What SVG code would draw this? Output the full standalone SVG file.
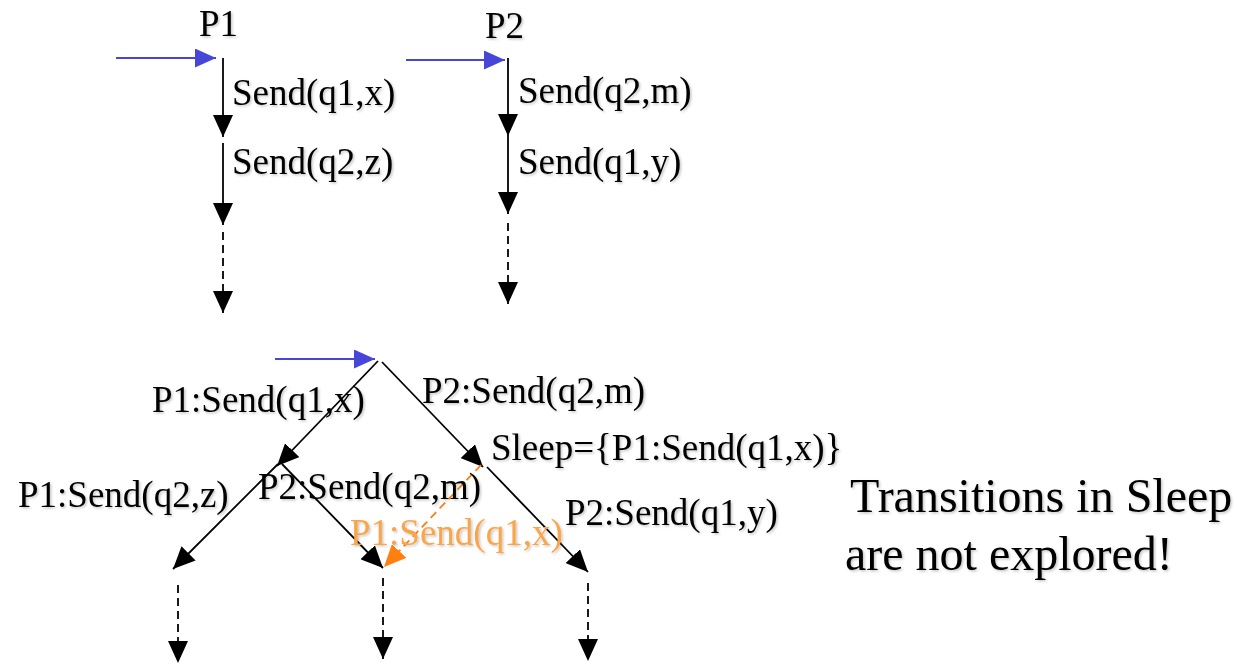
<svg xmlns="http://www.w3.org/2000/svg" width="1237" height="664" viewBox="0 0 1237 664">
<defs>
<style>
.t{font-family:"Liberation Serif","Times New Roman",serif;font-size:37px;fill:#000;filter:url(#sh)}
.big{font-size:48px}
.or{fill:#F9A54A}
.e{stroke:#000;stroke-width:1.8;fill:none;marker-end:url(#ah)}
.d{stroke-dasharray:8 5}
.b{stroke:#4646D8;stroke-width:2;fill:none;marker-end:url(#bh)}
.o{stroke:#FF7F0F;stroke-width:1.8;fill:none;stroke-dasharray:8 5;marker-end:url(#oh)}
</style>
<filter id="sh" x="-5%" y="-20%" width="115%" height="150%">
<feDropShadow dx="1.5" dy="1.5" stdDeviation="0.8" flood-color="#000" flood-opacity="0.22"/>
</filter>
<marker id="ah" markerUnits="userSpaceOnUse" viewBox="0 0 22 20" markerWidth="22" markerHeight="20" refX="22" refY="10" orient="auto"><path d="M0,0 L22,10 L0,20 z" fill="#000"/></marker>
<marker id="bh" markerUnits="userSpaceOnUse" viewBox="0 0 21 19" markerWidth="21" markerHeight="19" refX="21" refY="9.5" orient="auto"><path d="M0,0 L21,9.5 L0,19 z" fill="#4646D8"/></marker>
<marker id="oh" markerUnits="userSpaceOnUse" viewBox="0 0 22 20" markerWidth="22" markerHeight="20" refX="22" refY="10" orient="auto"><path d="M0,0 L22,10 L0,20 z" fill="#FF7F0F"/></marker>
</defs>
<rect width="1237" height="664" fill="#fff"/>
<g id="connectors">
<line class="b" x1="116" y1="58" x2="216" y2="58"/>
<line class="e" x1="223" y1="58" x2="223" y2="137"/>
<line class="e" x1="223" y1="143" x2="223" y2="225"/>
<line class="e d" x1="223" y1="232" x2="223" y2="313"/>
<line class="b" x1="406" y1="60" x2="505" y2="60"/>
<line class="e" x1="508" y1="58" x2="508" y2="136"/>
<line class="e" x1="508" y1="136" x2="508" y2="214"/>
<line class="e d" x1="508" y1="223" x2="508" y2="304"/>
<line class="b" x1="275" y1="359" x2="375" y2="359"/>
<line class="e" x1="378" y1="361" x2="277" y2="466"/>
<line class="e" x1="382" y1="362" x2="483" y2="467"/>
<line class="e" x1="278" y1="464" x2="173" y2="569"/>
<line class="e" x1="282" y1="464" x2="383" y2="568"/>
<line class="e" x1="487" y1="467" x2="588" y2="572"/>
<line class="o" x1="481" y1="465" x2="384" y2="567"/>
<line class="e d" x1="178" y1="585" x2="178" y2="663"/>
<line class="e d" x1="383" y1="578" x2="383" y2="659"/>
<line class="e d" x1="588" y1="583" x2="588" y2="661"/>
</g>
<g id="process-p1">
<text class="t" x="199" y="36">P1</text>
<text class="t" x="232" y="105">Send(q1,x)</text>
<text class="t" x="232" y="174">Send(q2,z)</text>
</g>
<g id="process-p2">
<text class="t" x="485" y="38">P2</text>
<text class="t" x="518" y="103">Send(q2,m)</text>
<text class="t" x="518" y="174">Send(q1,y)</text>
</g>
<g id="root-state">
<text class="t" x="152" y="412">P1:Send(q1,x)</text>
<text class="t" x="422" y="403">P2:Send(q2,m)</text>
</g>
<g id="state-after-p1">
<text class="t" x="18" y="507">P1:Send(q2,z)</text>
<text class="t" x="258" y="499">P2:Send(q2,m)</text>
</g>
<g id="state-after-p2">
<text class="t" x="491" y="460">Sleep={P1:Send(q1,x)}</text>
<text class="t" x="565" y="525">P2:Send(q1,y)</text>
<text class="t or" x="350" y="545">P1:Send(q1,x)</text>
</g>
<g id="note">
<text class="t big" x="850" y="512">Transitions in Sleep</text>
<text class="t big" x="845" y="570">are not explored!</text>
</g>
</svg>
